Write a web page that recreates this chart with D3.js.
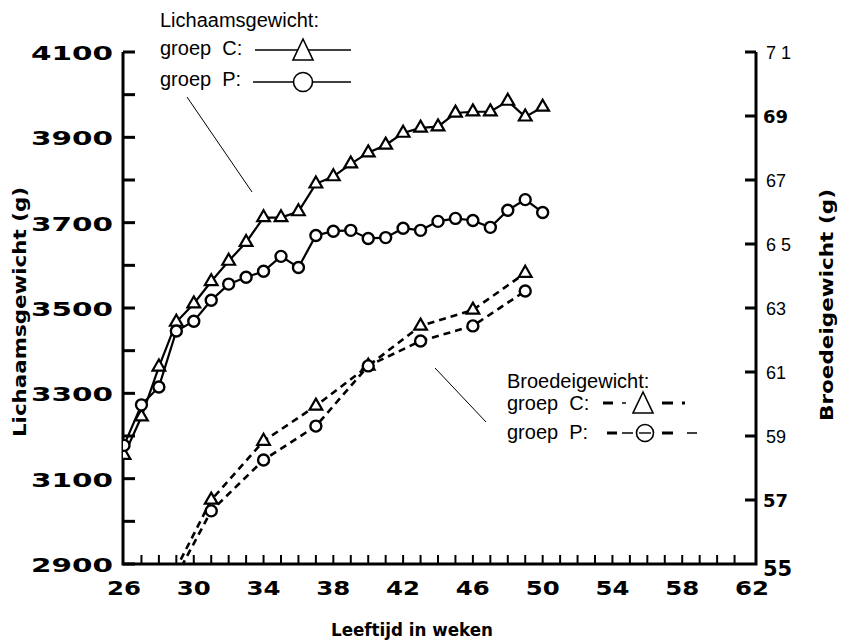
<!DOCTYPE html>
<html>
<head>
<meta charset="utf-8">
<script src="https://cdn.jsdelivr.net/npm/d3@7"></script>
<style>
  body { margin: 0; background: #fff; }
  svg { display: block; }
  .lbl { font-family: "Liberation Sans", Arial, sans-serif; font-size: 20px; fill: #000; }
  .num { font-family: "DejaVu Sans", sans-serif; font-weight: bold; fill: #000; }
</style>
</head>
<body>
<div id="chart"></div>
<script>
var width = 844;
var height = 640;

// body weight (g), weeks 26-50
var weeks = [26, 27, 28, 29, 30, 31, 32, 33, 34, 35, 36, 37, 38, 39, 40, 41, 42, 43, 44, 45, 46, 47, 48, 49, 50];
var bodyC = [3155, 3245, 3362, 3467, 3510, 3562, 3610, 3654, 3712, 3712, 3726, 3791, 3808, 3838, 3864,
             3882, 3910, 3922, 3925, 3957, 3960, 3960, 3985, 3948, 3971];
var bodyP = [3178, 3273, 3315, 3446, 3469, 3518, 3556, 3572, 3586, 3621, 3595, 3670, 3680, 3682, 3663,
             3665, 3687, 3682, 3703, 3710, 3705, 3689, 3729, 3754, 3724];

// egg weight (g); first value lies below the axis and is clipped
var eggWeeks = [28, 31, 34, 37, 40, 43, 46, 49];
var eggC = [53.8, 57.0, 58.84, 59.94, 61.19, 62.44, 62.94, 64.09];
var eggP = [53.6, 56.66, 58.25, 59.31, 61.19, 61.97, 62.44, 63.53];

var xTicks = [26, 30, 34, 38, 42, 46, 50, 54, 58, 62];
var leftTicks = [2900, 3100, 3300, 3500, 3700, 3900, 4100];
var rightTicks = [55, 57, 59, 61, 63, 65, 67, 69, 71];
var rightTickText = ["55", "57", "59", "61", "63", "6 5", "67", "69", "7 1"];
var rightTickBold = [true, true, false, false, false, false, false, true, false];

var x = d3.scaleLinear().domain([26, 62]).range([124, 752]);
var yL = d3.scaleLinear().domain([2900, 4100]).range([564, 52]);
var yR = d3.scaleLinear().domain([55, 71]).range([564, 52]);

var svg = d3.select("#chart").append("svg")
  .attr("width", width)
  .attr("height", height);

svg.append("defs").append("clipPath").attr("id", "plot")
  .append("rect").attr("x", 123).attr("y", 40).attr("width", 640).attr("height", 524);

// axes frame: left, bottom, right
var axes = svg.append("g").attr("stroke", "#000").attr("fill", "none");
axes.append("path")
  .attr("d", "M123,52V564H756V52")
  .attr("stroke-width", 3);

// left ticks every 100 g, pointing inwards
axes.selectAll(".lt").data(d3.range(2900, 4101, 100)).enter().append("line")
  .attr("x1", 123).attr("x2", 135)
  .attr("y1", function(d) { return yL(d); })
  .attr("y2", function(d) { return yL(d); })
  .attr("stroke-width", 3);

// bottom ticks every week
axes.selectAll(".bt").data(d3.range(27, 62, 1)).enter().append("line")
  .attr("x1", function(d) { return x(d); })
  .attr("x2", function(d) { return x(d); })
  .attr("y1", 564).attr("y2", 555)
  .attr("stroke-width", 2);

// right ticks
axes.selectAll(".rt").data(rightTicks.slice(1)).enter().append("line")
  .attr("x1", 745).attr("x2", 756)
  .attr("y1", function(d) { return yR(d); })
  .attr("y2", function(d) { return yR(d); })
  .attr("stroke-width", 3);

// tick labels
svg.selectAll(".ll").data(leftTicks).enter().append("text")
  .attr("class", "num")
  .attr("x", 113).attr("y", function(d) { return yL(d) + 8; })
  .attr("text-anchor", "end")
  .attr("font-size", 20)
  .attr("textLength", 82).attr("lengthAdjust", "spacingAndGlyphs")
  .text(function(d) { return d; });

svg.selectAll(".xl").data(xTicks).enter().append("text")
  .attr("class", "num")
  .attr("x", function(d) { return x(d); })
  .attr("y", 595)
  .attr("text-anchor", "middle")
  .attr("font-size", 19)
  .attr("textLength", 34).attr("lengthAdjust", "spacingAndGlyphs")
  .text(function(d) { return d; });

svg.selectAll(".rl").data(rightTicks).enter().append("text")
  .attr("x", function(d, i) { return rightTickBold[i] ? 763 : 766; })
  .attr("y", function(d, i) { return yR(d) + (i === 0 ? 12 : 7); })
  .attr("font-family", function(d, i) { return rightTickBold[i] ? "DejaVu Sans" : "Liberation Sans, Arial"; })
  .attr("font-weight", function(d, i) { return rightTickBold[i] ? "bold" : "normal"; })
  .attr("font-size", function(d, i) { return i === 0 ? 21 : 18; })
  .text(function(d, i) { return rightTickText[i]; });

// axis titles
svg.append("text").attr("class", "num")
  .attr("transform", "translate(26,312) rotate(-90)")
  .attr("text-anchor", "middle").attr("font-size", 18)
  .attr("textLength", 250).attr("lengthAdjust", "spacingAndGlyphs")
  .text("Lichaamsgewicht (g)");

svg.append("text").attr("class", "num")
  .attr("transform", "translate(833,305) rotate(-90)")
  .attr("text-anchor", "middle").attr("font-size", 18)
  .attr("textLength", 232).attr("lengthAdjust", "spacingAndGlyphs")
  .text("Broedeigewicht (g)");

svg.append("text").attr("class", "num")
  .attr("x", 412).attr("y", 636)
  .attr("text-anchor", "middle").attr("font-size", 17)
  .attr("textLength", 162).attr("lengthAdjust", "spacingAndGlyphs")
  .text("Leeftijd in weken");

// series
var tri = d3.symbol().type(d3.symbolTriangle).size(70);
var bodyLine = d3.line()
  .x(function(d) { return x(d[0]); })
  .y(function(d) { return yL(d[1]); });
var eggLine = d3.line()
  .x(function(d) { return x(d[0]); })
  .y(function(d) { return yR(d[1]); });

function drawSeries(pts, line, dashed, marker) {
  var g = svg.append("g").attr("clip-path", "url(#plot)");
  g.append("path")
    .datum(pts)
    .attr("d", line)
    .attr("fill", "none")
    .attr("stroke", "#000")
    .attr("stroke-width", dashed ? 2.6 : 2.2)
    .attr("stroke-dasharray", dashed ? "7,5" : null);
  var ms = g.selectAll(".m").data(pts).enter();
  if (marker === "tri") {
    ms.append("path")
      .attr("d", tri)
      .attr("transform", function(d) { return "translate(" + line.x()(d) + "," + line.y()(d) + ")"; })
      .attr("fill", "#fff").attr("stroke", "#000").attr("stroke-width", 2.2);
  } else {
    ms.append("circle")
      .attr("cx", line.x()).attr("cy", line.y()).attr("r", 5.5)
      .attr("fill", "#fff").attr("stroke", "#000").attr("stroke-width", 2.4);
  }
}

drawSeries(weeks.map(function(w, i) { return [w, bodyC[i]]; }), bodyLine, false, "tri");
drawSeries(weeks.map(function(w, i) { return [w, bodyP[i]]; }), bodyLine, false, "circle");
drawSeries(eggWeeks.map(function(w, i) { return [w, eggC[i]]; }), eggLine, true, "tri");
drawSeries(eggWeeks.map(function(w, i) { return [w, eggP[i]]; }), eggLine, true, "circle");

// top legend
var lg = svg.append("g");
lg.append("text").attr("class", "lbl").attr("x", 160).attr("y", 27).text("Lichaamsgewicht:");
lg.append("text").attr("class", "lbl").attr("x", 160).attr("y", 55).attr("xml:space", "preserve").text("groep  C:");
lg.append("text").attr("class", "lbl").attr("x", 160).attr("y", 86).attr("xml:space", "preserve").text("groep  P:");
lg.append("line").attr("x1", 255).attr("x2", 351).attr("y1", 50).attr("y2", 50).attr("stroke", "#000").attr("stroke-width", 1.6);
lg.append("line").attr("x1", 253).attr("x2", 351).attr("y1", 82).attr("y2", 82).attr("stroke", "#000").attr("stroke-width", 1.6);
lg.append("path").attr("d", "M303,39L313,60L293,60Z").attr("fill", "#fff").attr("stroke", "#000").attr("stroke-width", 1.6);
lg.append("circle").attr("cx", 303).attr("cy", 82).attr("r", 9.5).attr("fill", "#fff").attr("stroke", "#000").attr("stroke-width", 1.6);
lg.append("line").attr("x1", 187).attr("y1", 97).attr("x2", 252).attr("y2", 192).attr("stroke", "#000").attr("stroke-width", 1);

// bottom legend
var bl = svg.append("g");
bl.append("text").attr("class", "lbl").attr("x", 507).attr("y", 388).text("Broedeigewicht:");
bl.append("text").attr("class", "lbl").attr("x", 507).attr("y", 410).attr("xml:space", "preserve").text("groep  C:");
bl.append("text").attr("class", "lbl").attr("x", 507).attr("y", 439).attr("xml:space", "preserve").text("groep  P:");
var dashC = [[603, 613, 3], [622, 626, 1.5], [662, 673, 3], [682, 685, 3]];
var dashP = [[607, 617, 3], [622, 633, 1.5], [662, 673, 3], [687, 697, 1.5]];
bl.selectAll(".dc").data(dashC).enter().append("line")
  .attr("x1", function(d) { return d[0]; }).attr("x2", function(d) { return d[1]; })
  .attr("y1", 403).attr("y2", 403).attr("stroke", "#000")
  .attr("stroke-width", function(d) { return d[2]; });
bl.selectAll(".dp").data(dashP).enter().append("line")
  .attr("x1", function(d) { return d[0]; }).attr("x2", function(d) { return d[1]; })
  .attr("y1", 433).attr("y2", 433).attr("stroke", "#000")
  .attr("stroke-width", function(d) { return d[2]; });
bl.append("path").attr("d", "M643,392L653,413L633,413Z").attr("fill", "#fff").attr("stroke", "#000").attr("stroke-width", 1.6);
bl.append("circle").attr("cx", 645).attr("cy", 433).attr("r", 8.5).attr("fill", "#fff").attr("stroke", "#000").attr("stroke-width", 1.6);
bl.append("line").attr("x1", 639).attr("x2", 651).attr("y1", 433).attr("y2", 433).attr("stroke", "#000").attr("stroke-width", 1.4);
bl.append("line").attr("x1", 435).attr("y1", 368).attr("x2", 486).attr("y2", 422).attr("stroke", "#000").attr("stroke-width", 1);
</script>
</body>
</html>
